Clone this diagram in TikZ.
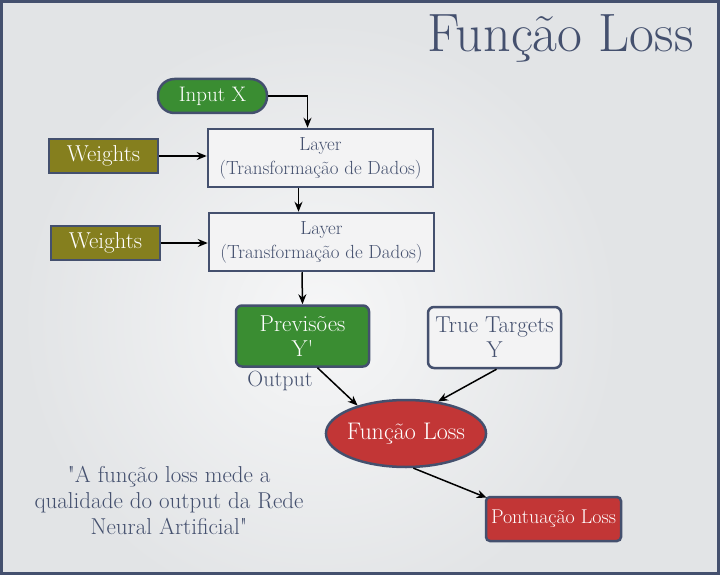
\documentclass[tikz,border=0pt]{standalone}
\usepackage{fontspec}
\usetikzlibrary{shapes.geometric,arrows.meta}
\definecolor{frame}{HTML}{44506E}
\definecolor{bg}{HTML}{E2E4E6}
\definecolor{gfill}{HTML}{3A8D32}
\definecolor{ofill}{HTML}{857F1E}
\definecolor{rfill}{HTML}{C23636}
\definecolor{wfill}{HTML}{F3F3F4}
\tikzset{
  base/.style={draw=frame, line width=2.5pt, inner sep=1pt, align=center},
  layerbox/.style={base, fill=wfill, text=frame, minimum width=225pt, minimum height=58pt, font=\fontsize{19}{24}\selectfont},
  weightbox/.style={base, fill=ofill, text=white, minimum width=109pt, minimum height=34pt, font=\fontsize{23}{26}\selectfont},
  pill/.style={base, fill=gfill, text=white, rounded corners=16.5pt, minimum width=109pt, minimum height=34pt, font=\fontsize{21}{24}\selectfont},
  roundbox/.style={base, rounded corners=6pt, minimum width=133pt, minimum height=61pt, font=\fontsize{23}{25}\selectfont},
  arr/.style={-{Stealth[length=10pt,width=8pt]}, line width=1.5pt, black},
}
\begin{document}
\begin{tikzpicture}[x=1pt,y=-1pt]
\useasboundingbox (0,0) rectangle (720,575);
\fill[bg] (0,0) rectangle (720,575);
\begin{scope}
\clip (0,0) rectangle (720,575);
\shade[inner color=white!70!bg, outer color=bg] (320,320) circle (300pt);
\end{scope}
\draw[frame, line width=3pt] (1.5,1.5) rectangle (718.5,573.5);
\node[anchor=base east, text=frame, font=\fontsize{54}{58}\selectfont] (title) at (697,52) {Função Loss};
\node[pill] (in) at (212.5,96) {Input X};
\node[layerbox] (l1) at (320.5,158) {Layer\\(Transformação de Dados)};
\node[weightbox] (w1) at (103.5,156) {Weights};
\node[layerbox] (l2) at (321.5,242) {Layer\\(Transformação de Dados)};
\node[weightbox] (w2) at (105.5,243) {Weights};
\node[roundbox, fill=gfill, text=white] (pv) at (302.5,336) {Previsões\\Y\textquotesingle};
\node[roundbox, fill=wfill, text=frame] (tt) at (494.5,337.5) {True Targets\\Y};
\node[text=frame, font=\fontsize{22}{24}\selectfont] (out) at (280,381) {Output};
\node[base, ellipse, inner xsep=-2.5pt, inner ysep=0pt, fill=rfill, text=white, minimum width=160pt, minimum height=67pt, font=\fontsize{24}{26}\selectfont] (fl) at (406,433.5) {Função Loss};
\node[base, rounded corners=4pt, fill=rfill, text=white, minimum width=135pt, minimum height=44pt, font=\fontsize{20}{22}\selectfont] (pl) at (553.5,519) {Pontuação Loss};
\node[text=frame, align=center, font=\fontsize{23}{26}\selectfont] (q) at (169,500) {\textquotedbl A função loss mede a\\qualidade do output da Rede\\Neural Artificial\textquotedbl};
\draw[arr] (in.east) -| ([xshift=-13pt]l1.north);
\draw[arr] (w1.east) -- (w1.east -| l1.west);
\draw[arr] ([xshift=-22pt]l1.south) -- ([xshift=-23pt]l2.north);
\draw[arr] (w2.east) -- (w2.east -| l2.west);
\draw[arr] ([xshift=-19.5pt]l2.south) -- (pv.north);
\draw[arr] ([xshift=15pt]pv.south) -- (fl.150);
\draw[arr] ([xshift=2pt]tt.south) -- (fl.45);
\draw[arr] (fl.-78) -- ([xshift=2pt,yshift=-2pt]pl.north west);
\end{tikzpicture}
\end{document}
